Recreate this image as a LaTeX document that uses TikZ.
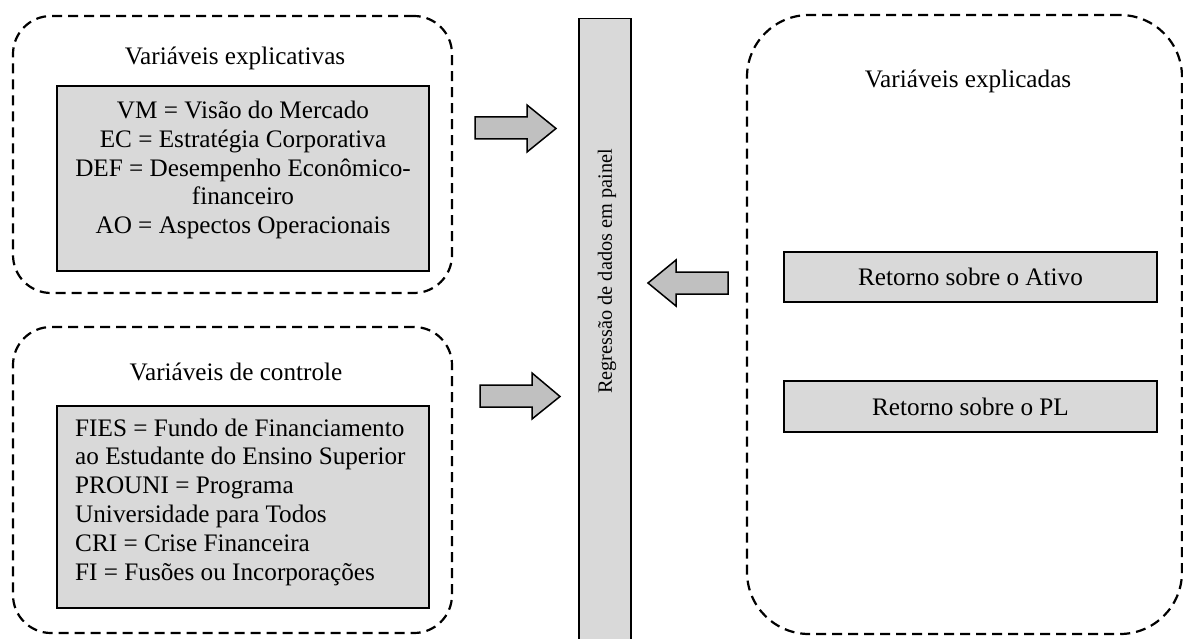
\documentclass[tikz,border=0pt]{standalone}
\usepackage{fontspec}
\setmainfont{Liberation Serif}
\definecolor{boxgrey}{HTML}{D9D9D9}
\definecolor{arrowgrey}{HTML}{C0C0C0}
\begin{document}
\begin{tikzpicture}[x=1pt,y=-1pt,
  frame/.style={draw, line width=2.2pt, dash pattern=on 10pt off 6pt},
  greybox/.style={draw, line width=1.4pt, fill=boxgrey, inner sep=0pt},
  blockarrow/.style={draw, line width=1.5pt, fill=arrowgrey, line join=miter},
  txt/.style={font=\fontsize{25.2}{28.8}\selectfont, inner sep=0pt}]
\clip (0,0) rectangle (1183,639);
\fill[white] (0,0) rectangle (1183,639);
% dashed group frames
\node[frame, rounded corners=38pt, minimum width=439pt, minimum height=277pt] (gexpl) at (232.5,154.5) {};
\node[frame, rounded corners=38pt, minimum width=439pt, minimum height=306pt] (gctrl) at (232.5,480) {};
\node[frame, rounded corners=62pt, minimum width=435pt, minimum height=619pt] (gresp) at (964.5,324.5) {};
% titles
\node[txt] (texpl) at (235,58) {Variáveis explicativas};
\node[txt] (tctrl) at (236,372) {Variáveis de controle};
\node[txt] (tresp) at (968,81) {Variáveis explicadas};
% grey boxes
\node[greybox, minimum width=372pt, minimum height=185pt] (bexpl) at (243,178.5) {};
\node[txt, align=center] (lexpl) at (243,170) {VM = Visão do Mercado\\EC = Estratégia Corporativa\\DEF = Desempenho Econômico-\\financeiro\\AO = Aspectos Operacionais};
\node[greybox, minimum width=372pt, minimum height=202pt] (bctrl) at (243,507) {};
\node[txt, align=left, anchor=west] (lctrl) at (75,502) {FIES = Fundo de Financiamento\\ao Estudante do Ensino Superior\\PROUNI = Programa\\Universidade para Todos\\CRI = Crise Financeira\\FI = Fusões ou Incorporações};
\node[greybox, txt, minimum width=373pt, minimum height=50pt] (roa) at (970.5,277) {Retorno sobre o Ativo};
\node[greybox, txt, minimum width=373pt, minimum height=51pt] (roe) at (970.5,406.5) {Retorno sobre o PL};
% central panel regression box
\node[greybox, minimum width=52pt, minimum height=660pt, anchor=north] (reg) at (605,18) {};
\node[txt, font=\fontsize{20.3}{24}\selectfont, rotate=90] (regt) at (607,271.5) {Regressão de dados em painel};
% block arrows
\draw[blockarrow] (475,117) -- (527,117) -- (527,105) -- (556,128.5) -- (527,152) -- (527,139) -- (475,139) -- cycle;
\draw[blockarrow] (480,385) -- (532,385) -- (532,373) -- (560,396.5) -- (532,419) -- (532,407) -- (480,407) -- cycle;
\draw[blockarrow] (728,272) -- (676,272) -- (676,260) -- (648,283) -- (676,306) -- (676,294) -- (728,294) -- cycle;
\end{tikzpicture}
\end{document}
